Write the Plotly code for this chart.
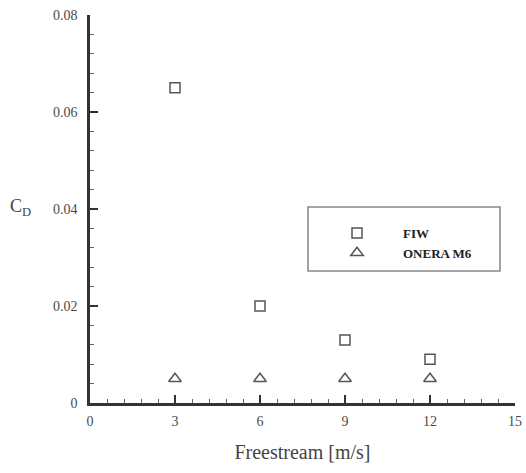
import plotly.graph_objects as go

speeds = [3, 6, 9, 12]
fiw_cd = [0.065, 0.020, 0.013, 0.009]
onera_cd = [0.005, 0.005, 0.005, 0.005]
x_ticks = [0, 3, 6, 9, 12, 15]
y_ticks = [0, 0.02, 0.04, 0.06, 0.08]
y_tick_text = ["0", "0.02", "0.04", "0.06", "0.08"]

FONT = "Liberation Serif, Times New Roman, serif"
INK = "#444444"

# plot area in pixels (for paper-coordinate placement of decorations)
L, R, T, B = 90, 515, 15, 403
W, H = R - L, B - T

fig = go.Figure()
fig.add_trace(go.Scatter(
    x=speeds, y=fiw_cd, mode="markers", name="FIW",
    marker=dict(symbol="square-open", size=10, color="#555555", line=dict(width=1.5)),
))
fig.add_trace(go.Scatter(
    x=speeds, y=onera_cd, mode="markers", name="ONERA M6",
    marker=dict(symbol="triangle-up-open", size=11, color="#555555", line=dict(width=1.5)),
))

axis_common = dict(
    showgrid=False, zeroline=False, showline=True, linecolor="#333333", linewidth=2.5,
    ticks="inside", ticklen=8, tickwidth=2, tickcolor="#333333",
    tickfont=dict(family=FONT, size=14, color="#4a4a4a"),
    automargin=False,
)

fig.update_xaxes(
    range=[0, 15], tickvals=x_ticks,
    minor=dict(ticks="inside", ticklen=4, tickwidth=1, tickcolor="#666666", dtick=0.6, tick0=0),
    title=dict(text="Freestream [m/s]", font=dict(family=FONT, size=20, color=INK), standoff=18),
    ticklabelstandoff=3,
    **axis_common,
)
fig.update_yaxes(
    range=[0, 0.08], tickvals=y_ticks, ticktext=y_tick_text,
    minor=dict(ticks="inside", ticklen=4, tickwidth=1, tickcolor="#666666", dtick=0.004, tick0=0),
    ticklabelstandoff=7,
    **axis_common,
)

fig.add_annotation(
    xref="paper", yref="paper", x=(20 - L) / W, y=(B - 207) / H,
    xanchor="center", yanchor="middle",
    text="C<sub>D</sub>", showarrow=False,
    font=dict(family=FONT, size=18, color=INK),
)

# legend box
fig.add_shape(type="rect", xref="paper", yref="paper",
              x0=(308 - L) / W, x1=(500 - L) / W,
              y0=(B - 271) / H, y1=(B - 207) / H,
              line=dict(color="#888888", width=1.5))

fig.update_layout(
    width=526, height=473,
    margin=dict(l=L, r=526 - R, t=T, b=473 - B),
    plot_bgcolor="white", paper_bgcolor="white",
    showlegend=True,
    legend=dict(
        x=(311 - L) / W, y=(B - 218) / H, xanchor="left", yanchor="top",
        bgcolor="rgba(0,0,0,0)", borderwidth=0,
        font=dict(family=FONT, size=13, color="#222222", weight="bold"),
        tracegroupgap=0, itemwidth=82,
    ),
)

fig.write_html("out.html", config={"displayModeBar": False},
               post_script="document.body.style.margin='0';")
